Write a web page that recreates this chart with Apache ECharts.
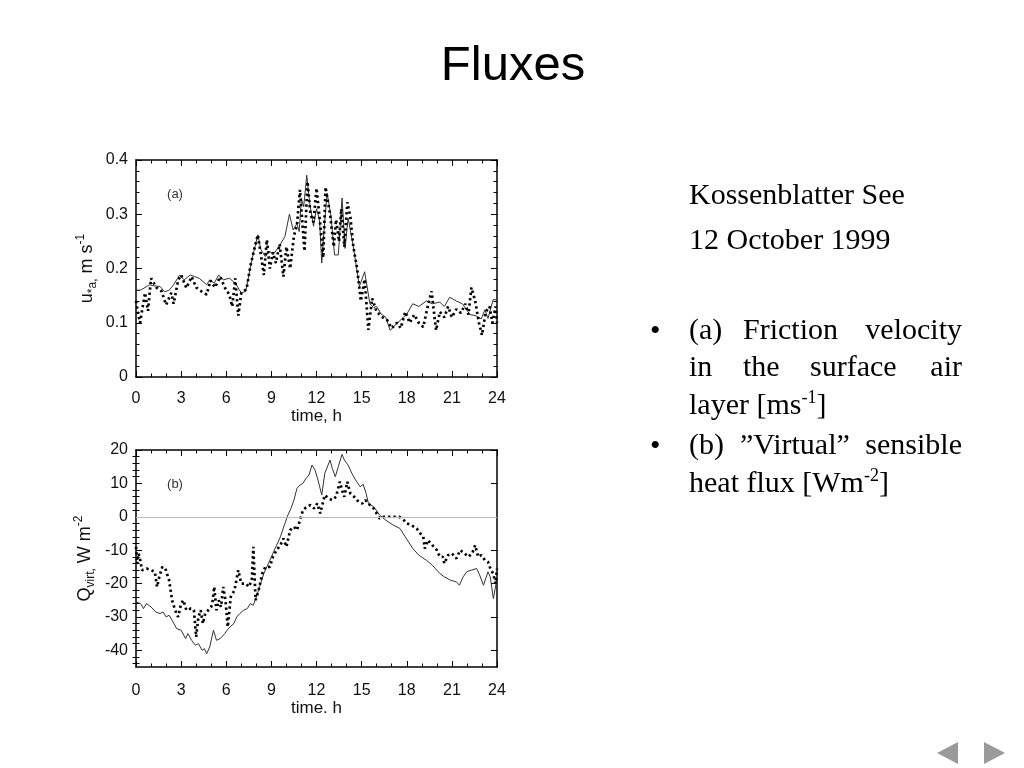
<!DOCTYPE html>
<html><head><meta charset="utf-8">
<script src="https://cdn.jsdelivr.net/npm/echarts@6/dist/echarts.min.js"></script>
<style>html,body{margin:0;padding:0;background:#fff}#c{width:1024px;height:768px}</style>
</head><body><div id="c"></div>
<script>
// ---- data ----
const hourTicks = [0,3,6,9,12,15,18,21,24];
const uTicks = [0,0.1,0.2,0.3,0.4];
const qTicks = [-40,-30,-20,-10,0,10,20];
const qMinorTicks = [-44,-42,-38,-36,-34,-32,-28,-26,-24,-22,-18,-16,-14,-12,-8,-6,-4,-2,2,4,6,8,12,14,16,18];

// (a) friction velocity, solid line [hour, m/s]
const uSolid = [[0,0.16],[0.3,0.16],[0.6,0.165],[0.9,0.17],[1.2,0.168],[1.6,0.167],[1.9,0.157],[2.2,0.16],[2.5,0.17],[2.9,0.188],[3.2,0.179],[3.6,0.188],[3.9,0.185],[4.2,0.182],[4.7,0.17],[4.9,0.179],[5.2,0.173],[5.5,0.188],[5.8,0.179],[6.2,0.182],[6.6,0.173],[7.0,0.155],[7.3,0.158],[7.7,0.216],[8.1,0.262],[8.3,0.235],[8.6,0.222],[8.9,0.232],[9.1,0.225],[9.5,0.24],[9.9,0.259],[10.2,0.3],[10.45,0.271],[10.7,0.283],[10.85,0.268],[11.0,0.329],[11.15,0.314],[11.35,0.372],[11.55,0.32],[11.8,0.278],[12.0,0.31],[12.2,0.29],[12.35,0.21],[12.5,0.27],[12.7,0.339],[12.95,0.3],[13.2,0.225],[13.45,0.225],[13.7,0.33],[13.9,0.237],[14.1,0.293],[14.45,0.24],[14.85,0.167],[15.2,0.194],[15.55,0.135],[15.8,0.128],[16.0,0.13],[16.3,0.116],[16.6,0.11],[16.9,0.086],[17.2,0.095],[17.55,0.104],[18.0,0.116],[18.4,0.135],[18.8,0.13],[19.3,0.14],[19.7,0.135],[20.2,0.138],[20.5,0.13],[20.85,0.147],[21.3,0.14],[21.7,0.135],[22.2,0.115],[22.6,0.113],[22.95,0.107],[23.2,0.124],[23.4,0.108],[23.75,0.143],[24,0.142]];

// (a) friction velocity, dotted line
const uDotted = [[0,0.14],[0.15,0.115],[0.27,0.1],[0.45,0.13],[0.6,0.155],[0.8,0.122],[1.0,0.182],[1.35,0.165],[1.7,0.158],[2.0,0.133],[2.35,0.155],[2.5,0.135],[2.8,0.178],[3.0,0.188],[3.35,0.164],[3.7,0.185],[4.0,0.165],[4.35,0.158],[4.7,0.152],[4.95,0.178],[5.25,0.165],[5.6,0.185],[5.9,0.165],[6.2,0.152],[6.4,0.13],[6.6,0.182],[6.8,0.113],[7.0,0.155],[7.35,0.162],[7.6,0.204],[7.9,0.24],[8.1,0.262],[8.35,0.216],[8.5,0.188],[8.7,0.253],[8.9,0.2],[9.1,0.23],[9.3,0.21],[9.55,0.245],[9.8,0.185],[10.0,0.24],[10.25,0.2],[10.5,0.26],[10.7,0.28],[10.9,0.345],[11.2,0.232],[11.4,0.36],[11.6,0.3],[11.8,0.285],[12.0,0.348],[12.2,0.295],[12.45,0.22],[12.6,0.35],[12.9,0.3],[13.15,0.24],[13.3,0.29],[13.5,0.25],[13.65,0.31],[13.85,0.24],[14.05,0.322],[14.25,0.295],[14.45,0.24],[14.7,0.2],[14.95,0.14],[15.2,0.18],[15.45,0.087],[15.7,0.145],[16.0,0.12],[16.4,0.11],[16.7,0.105],[17.0,0.09],[17.35,0.1],[17.6,0.09],[17.9,0.12],[18.2,0.1],[18.5,0.115],[18.8,0.1],[19.1,0.092],[19.35,0.125],[19.65,0.158],[19.95,0.086],[20.2,0.12],[20.5,0.11],[20.75,0.13],[21.0,0.11],[21.3,0.125],[21.6,0.118],[21.9,0.135],[22.1,0.115],[22.3,0.165],[22.55,0.14],[22.8,0.1],[23.0,0.077],[23.25,0.12],[23.5,0.13],[23.7,0.1],[23.9,0.13],[24,0.1]];

// (b) virtual sensible heat flux, solid line [hour, W/m2]
const qSolid = [[0,-25.5],[0.3,-26],[0.5,-27.5],[0.7,-26],[1.0,-27],[1.3,-28.5],[1.6,-29],[1.8,-28.5],[2.0,-30],[2.2,-29.5],[2.4,-31],[2.7,-33.5],[3.0,-34],[3.3,-36.5],[3.45,-35],[3.7,-37],[3.95,-38.5],[4.15,-38],[4.4,-40],[4.55,-39.5],[4.7,-41],[4.9,-39],[5.15,-34],[5.35,-37],[5.6,-36.5],[5.9,-35],[6.05,-34],[6.25,-33],[6.5,-32],[6.7,-30],[6.9,-29],[7.15,-28],[7.4,-27.5],[7.6,-26],[7.8,-26.5],[8.0,-24],[8.25,-20.5],[8.5,-17],[8.75,-14.5],[9.0,-12],[9.3,-9],[9.6,-6],[9.9,-2],[10.1,0.5],[10.3,2.5],[10.5,5],[10.7,8.5],[10.9,9.5],[11.1,10],[11.3,11.5],[11.5,12.5],[11.7,15.5],[11.9,14],[12.1,11],[12.35,6.5],[12.55,13],[12.9,17],[13.05,14.5],[13.25,12],[13.45,15],[13.7,18.7],[13.85,17],[14.1,15.5],[14.35,13],[14.6,11],[14.9,9],[15.1,9.7],[15.3,7],[15.45,4],[15.8,3],[16.2,0.5],[16.6,-1],[17.1,-2.5],[17.55,-3.5],[17.9,-6],[18.4,-9.5],[18.8,-11.5],[19.3,-13],[19.7,-14.5],[20.2,-17],[20.5,-18],[20.9,-19],[21.3,-19.5],[21.5,-20.5],[21.75,-18],[22.0,-16.4],[22.3,-16],[22.65,-15.5],[22.85,-17.5],[23.1,-20.5],[23.4,-16.5],[23.55,-18],[23.76,-24.5],[24,-18.5]];

// (b) virtual sensible heat flux, dotted line
const qDotted = [[0,-9],[0.08,-14],[0.17,-11],[0.28,-13],[0.4,-16],[0.7,-15.5],[1.0,-16],[1.25,-16.5],[1.4,-21],[1.55,-18],[1.75,-15],[1.95,-15.5],[2.2,-19],[2.4,-25],[2.6,-28],[2.8,-30],[3.0,-26],[3.15,-25],[3.35,-28],[3.65,-27.5],[3.85,-28],[4.0,-36],[4.15,-30],[4.3,-28],[4.45,-32],[4.6,-29],[4.8,-28],[5.0,-27],[5.1,-25],[5.2,-21],[5.35,-28],[5.5,-25],[5.65,-27],[5.8,-21],[5.95,-25],[6.1,-33],[6.3,-24],[6.55,-22],[6.8,-16],[7.0,-20],[7.3,-20],[7.5,-21],[7.7,-19],[7.8,-9],[7.95,-25],[8.15,-22],[8.4,-17],[8.6,-15],[8.9,-15],[9.1,-12],[9.35,-10],[9.6,-8.5],[9.8,-6.5],[10.0,-9],[10.25,-4],[10.5,-3],[10.7,-4],[10.9,-1],[11.1,2],[11.35,3],[11.6,3.5],[11.85,2.5],[12.05,4],[12.25,1],[12.55,6.5],[12.8,5.5],[13.05,5],[13.3,6],[13.55,10.5],[13.7,8],[13.85,6],[14.05,10.5],[14.25,7],[14.5,6],[14.8,4.5],[15.05,4],[15.25,5],[15.55,3.5],[15.8,2.5],[16.0,1],[16.2,-0.5],[16.5,0],[16.9,0],[17.2,0],[17.5,0],[17.8,-1],[18.0,-2],[18.3,-2.5],[18.66,-3.5],[18.9,-5],[19.1,-6],[19.2,-9.5],[19.4,-7],[19.6,-8],[19.8,-9],[20.0,-10],[20.2,-12],[20.4,-12],[20.5,-14],[20.75,-11.5],[21.0,-11],[21.3,-12.5],[21.55,-10],[21.85,-11],[22.1,-12],[22.35,-11],[22.55,-8.5],[22.75,-12],[22.95,-11.5],[23.2,-13],[23.4,-13.5],[23.6,-16],[23.75,-17],[23.9,-20],[24,-15.5]];

// ---- chart ----
const SANS = "'Liberation Sans', Arial, Helvetica, sans-serif";
const SERIF = "'Liberation Serif', 'Times New Roman', serif";
const INK = '#111';
const frameLine = {show:true, onZero:false, lineStyle:{color:'#000', width:1.5}};
const majTick = (cv) => Object.assign({show:true, inside:true, length:6, lineStyle:{color:'#000', width:1}}, cv ? {customValues:cv} : {});
const minTick = (n) => ({show:true, splitNumber:n, length:3.5, lineStyle:{color:'#000', width:1}});
const lab = (margin, extra) => Object.assign({show:true, color:INK, fontFamily:SANS, fontSize:16, margin:margin}, extra||{});
const nameRich = {
  n:{fontFamily:SANS, fontSize:18, color:INK, lineHeight:24},
  sub:{fontFamily:SANS, fontSize:12, color:INK, lineHeight:15, verticalAlign:'bottom'},
  sup:{fontFamily:SANS, fontSize:12, color:INK, lineHeight:15, verticalAlign:'top'}
};

function xAx(grid, pos, name, labelMargin, nameGap) {
  const shown = pos === 'bottom';
  return {
    type:'value', gridIndex:grid, position:pos, min:0, max:24, interval:3,
    axisLine:frameLine, axisTick:majTick(), minorTick:minTick(3),
    splitLine:{show:false}, minorSplitLine:{show:false},
    axisLabel: shown ? lab(labelMargin, {customValues:hourTicks}) : {show:false},
    name: shown ? name : '', nameLocation:'middle', nameGap:nameGap || 30,
    nameTextStyle:{fontFamily:SANS, fontSize:17, color:INK}
  };
}

const option = {
  backgroundColor:'#fff',
  animation:false,
  grid:[
    {left:136, top:160, width:361, height:217, show:false},
    {left:136, top:450, width:361, height:217, show:false}
  ],
  xAxis:[
    xAx(0,'bottom','time, h',14,31),
    xAx(0,'top','',0),
    xAx(1,'bottom','time. h',16,32),
    xAx(1,'top','',0)
  ],
  yAxis:[
    { type:'value', gridIndex:0, position:'left', min:0, max:0.4, interval:0.1,
      axisLine:frameLine, axisTick:majTick(), minorTick:minTick(5),
      splitLine:{show:false}, minorSplitLine:{show:false},
      axisLabel:lab(8, {customValues:uTicks}),
      name:'{n|u}{sub|*a,}{n| m s}{sup|-1}', nameLocation:'middle', nameGap:37, nameRotate:90,
      nameTextStyle:{rich:nameRich} },
    { type:'value', gridIndex:0, position:'right', min:0, max:0.4, interval:0.1,
      axisLine:frameLine, axisTick:majTick(), minorTick:minTick(5),
      splitLine:{show:false}, minorSplitLine:{show:false}, axisLabel:{show:false} },
    { type:'value', gridIndex:1, position:'left', min:-45, max:20, interval:5,
      axisLine:frameLine, axisTick:majTick(qTicks),
      splitLine:{show:false}, axisLabel:lab(8, {customValues:qTicks}),
      name:'{n|Q}{sub|virt,}{n| W m}{sup|-2}', nameLocation:'middle', nameGap:39, nameRotate:90,
      nameTextStyle:{rich:nameRich} },
    { type:'value', gridIndex:1, position:'left', min:-45, max:20, interval:5,
      axisLine:{show:false}, splitLine:{show:false}, axisLabel:{show:false},
      axisTick:{show:true, inside:true, length:3.5, customValues:qMinorTicks, lineStyle:{color:'#000', width:1}} },
    { type:'value', gridIndex:1, position:'right', min:-45, max:20, interval:5,
      axisLine:frameLine, axisTick:majTick(qTicks),
      splitLine:{show:false}, axisLabel:{show:false} },
    { type:'value', gridIndex:1, position:'right', min:-45, max:20, interval:5,
      axisLine:{show:false}, splitLine:{show:false}, axisLabel:{show:false},
      axisTick:{show:true, inside:true, length:3.5, customValues:qMinorTicks, lineStyle:{color:'#000', width:1}} }
  ],
  series:[
    { type:'line', xAxisIndex:0, yAxisIndex:0, data:uSolid, showSymbol:false, z:3,
      lineStyle:{color:'#333', width:1} },
    { type:'line', xAxisIndex:0, yAxisIndex:0, data:uDotted, showSymbol:false, z:4,
      lineStyle:{color:'#000', width:2.7, type:[2.3,3.1]} },
    { type:'line', xAxisIndex:2, yAxisIndex:2, data:qSolid, showSymbol:false, z:3,
      lineStyle:{color:'#333', width:1},
      markLine:{silent:true, symbol:'none', label:{show:false},
        lineStyle:{color:'#bbb', width:1.2, type:'solid'}, data:[{yAxis:0}]} },
    { type:'line', xAxisIndex:2, yAxisIndex:2, data:qDotted, showSymbol:false, z:4,
      lineStyle:{color:'#000', width:2.7, type:[2.3,3.1]} }
  ],
  graphic:[
    {type:'text', x:513, y:66, style:{text:'Fluxes', font:"49px "+SANS, fill:'#000', align:'center', verticalAlign:'middle'}},
    {type:'text', x:175, y:194, style:{text:'(a)', font:"13px "+SANS, fill:'#333', align:'center', verticalAlign:'middle'}},
    {type:'text', x:175, y:484, style:{text:'(b)', font:"13px "+SANS, fill:'#333', align:'center', verticalAlign:'middle'}},
    // right-hand text
    {type:'text', x:689, y:196, style:{text:'Kossenblatter See', font:"30px "+SERIF, fill:'#000', verticalAlign:'middle'}},
    {type:'text', x:689, y:241, style:{text:'12 October 1999', font:"30px "+SERIF, fill:'#000', verticalAlign:'middle'}},
    {type:'text', x:650, y:332, style:{text:'•', font:"30px "+SERIF, fill:'#000', verticalAlign:'middle'}},
    {type:'text', x:689, y:331, style:{text:'(a)', font:"30px "+SERIF, fill:'#000', verticalAlign:'middle'}},
    {type:'text', x:743, y:331, style:{text:'Friction', font:"30px "+SERIF, fill:'#000', verticalAlign:'middle'}},
    {type:'text', x:962, y:331, style:{text:'velocity', font:"30px "+SERIF, fill:'#000', align:'right', verticalAlign:'middle'}},
    {type:'text', x:689, y:368, style:{text:'in', font:"30px "+SERIF, fill:'#000', verticalAlign:'middle'}},
    {type:'text', x:743, y:368, style:{text:'the', font:"30px "+SERIF, fill:'#000', verticalAlign:'middle'}},
    {type:'text', x:810, y:368, style:{text:'surface', font:"30px "+SERIF, fill:'#000', verticalAlign:'middle'}},
    {type:'text', x:962, y:368, style:{text:'air', font:"30px "+SERIF, fill:'#000', align:'right', verticalAlign:'middle'}},
    {type:'text', x:689, y:406, style:{text:'{n|layer [ms}{s|-1}{n|]}', verticalAlign:'middle',
      rich:{n:{font:"30px "+SERIF, fill:'#000', lineHeight:34}, s:{font:"18px "+SERIF, fill:'#000', lineHeight:22, verticalAlign:'top'}}}},
    {type:'text', x:650, y:447, style:{text:'•', font:"30px "+SERIF, fill:'#000', verticalAlign:'middle'}},
    {type:'text', x:689, y:446, style:{text:'(b)', font:"30px "+SERIF, fill:'#000', verticalAlign:'middle'}},
    {type:'text', x:740, y:446, style:{text:'\u201dVirtual\u201d', font:"30px "+SERIF, fill:'#000', verticalAlign:'middle'}},
    {type:'text', x:962, y:446, style:{text:'sensible', font:"30px "+SERIF, fill:'#000', align:'right', verticalAlign:'middle'}},
    {type:'text', x:689, y:484, style:{text:'{n|heat flux [Wm}{s|-2}{n|]}', verticalAlign:'middle',
      rich:{n:{font:"30px "+SERIF, fill:'#000', lineHeight:34}, s:{font:"18px "+SERIF, fill:'#000', lineHeight:22, verticalAlign:'top'}}}},
    // navigation arrows
    {type:'polygon', shape:{points:[[937,753],[958,742],[958,764]]}, style:{fill:'#9a9a9a'}},
    {type:'polygon', shape:{points:[[984,742],[984,764],[1005,753]]}, style:{fill:'#9a9a9a'}}
  ]
};
const chart = echarts.init(document.getElementById('c'), null, {renderer:'canvas'});
chart.setOption(option);
</script></body></html>
